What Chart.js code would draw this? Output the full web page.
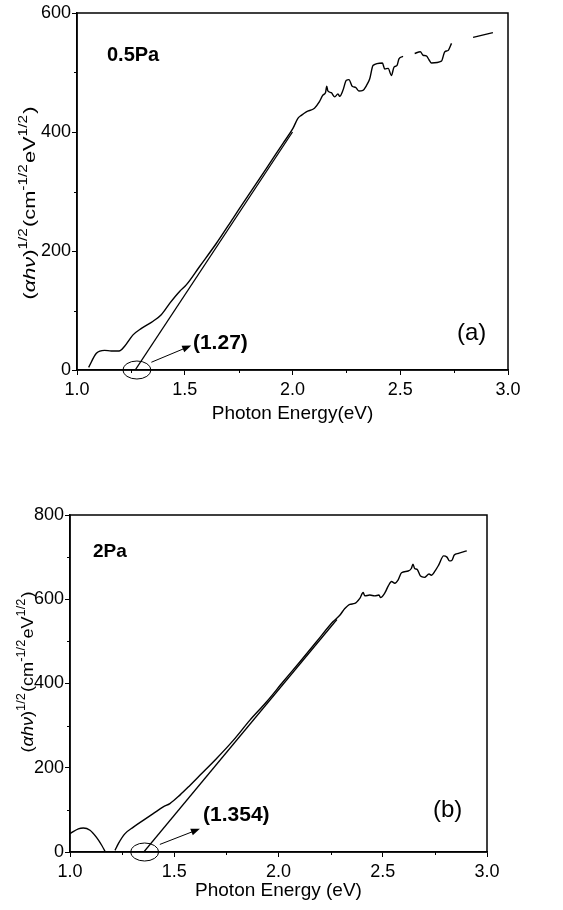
<!DOCTYPE html>
<html>
<head>
<meta charset="utf-8">
<script src="https://cdn.jsdelivr.net/npm/chart.js@4.4.1/dist/chart.umd.min.js"></script>
<style>
  html, body { margin: 0; padding: 0; background: #fff; }
  body { width: 563px; height: 910px; position: relative; overflow: hidden; }
  .panel { position: absolute; left: 0; }
</style>
</head>
<body>
<div class="panel" style="top:0px;"><canvas id="chartA" width="563" height="450"></canvas></div>
<div class="panel" style="top:460px;"><canvas id="chartB" width="563" height="450"></canvas></div>
<script>
// ---------- Panel (a): 0.5Pa ----------
const energyA = [1.054, 1.090, 1.128, 1.159, 1.195, 1.221, 1.260, 1.299, 1.353, 1.391,
                 1.430, 1.476, 1.507, 1.569, 1.647, 1.724, 1.801, 1.879, 1.956, 2.002,
                 2.025, 2.041, 2.064, 2.102, 2.125, 2.141, 2.153, 2.159, 2.164, 2.180,
                 2.196, 2.211, 2.219, 2.234, 2.250, 2.262, 2.277, 2.293, 2.308, 2.327,
                 2.343, 2.358, 2.374, 2.417, 2.428, 2.444, 2.459, 2.471, 2.485, 2.494,
                 2.513, 2.540, 2.567, 2.593, 2.606, 2.621, 2.634, 2.645, 2.691, 2.707,
                 2.722, 2.738, 2.790, 2.838, 2.930];
const valueA  = [4.5, 28, 33, 32, 32, 40, 59, 70, 82, 93,
                 112, 132, 143, 174, 213, 255, 297, 339, 381, 406,
                 423, 428, 434, 440, 451, 462, 466, 477, 469, 466,
                 459, 464, 460, 470, 487, 488, 477, 475, 469, 470,
                 478, 489, 512, 516, 506, 507, 495, 509, 512, 523,
                 527, null, 532, 535, 529, 528, 521, 516, 519, 535,
                 537, 549, null, 559, 567];
const fitEnergyA = [1.27, 2.0];
const fitValueA  = [0, 400];
const xTicksA = [1.0, 1.5, 2.0, 2.5, 3.0];
const yTicksA = [0, 200, 400, 600];
const xMinorA = [1.25, 1.75, 2.25, 2.75];
const yMinorA = [100, 300, 500];
const gapLabelA = "(1.27)";
const sampleLabelA = "0.5Pa";
const panelLabelA = "(a)";
const xTitleA = "Photon Energy(eV)";

// ---------- Panel (b): 2Pa ----------
const energyB = [1.000, 1.040, 1.064, 1.096, 1.128, 1.152, 1.168, 1.190,
                 1.216, 1.232, 1.264, 1.304, 1.351, 1.399, 1.447, 1.479, 1.527, 1.575,
                 1.623, 1.703, 1.783, 1.863, 1.942, 2.022, 2.102, 2.182, 2.262, 2.294,
                 2.318, 2.342, 2.366, 2.390, 2.406, 2.414, 2.438, 2.462, 2.482, 2.489,
                 2.510, 2.526, 2.542, 2.558, 2.574, 2.590, 2.622, 2.637, 2.645, 2.653,
                 2.665, 2.681, 2.700, 2.722, 2.733, 2.752, 2.768, 2.792, 2.808, 2.820,
                 2.831, 2.843, 2.863, 2.903];
const valueB  = [43.6, 55, 57, 51.5, 34, 16, 1.6, null,
                 4, 20, 43.6, 59, 75, 91, 107, 115, 135, 158,
                 182, 222, 265, 313, 356, 404, 451, 499, 547, 562,
                 578, 588, 590, 602, 616, 608, 610, 608, 610, 604,
                 615, 631, 642, 638, 646, 663, 667, 673, 683, 673,
                 671, 655, 652, 660, 657, 668, 681, 703, 700, 691,
                 692, 705, 709, 715];
const fitEnergyB = [1.354, 2.28];
const fitValueB  = [0, 552];
const xTicksB = [1.0, 1.5, 2.0, 2.5, 3.0];
const yTicksB = [0, 200, 400, 600, 800];
const xMinorB = [1.25, 1.75, 2.25, 2.75];
const yMinorB = [100, 300, 500, 700];
const gapLabelB = "(1.354)";
const sampleLabelB = "2Pa";
const panelLabelB = "(b)";
const xTitleB = "Photon Energy (eV)";

const FONT = "'Liberation Sans', Arial, sans-serif";

function pairs(xs, ys) { return xs.map((x, i) => ({ x: x, y: ys[i] })); }

function drawYTitle(ctx, x, yCenter, size, supSize, length) {
  // (αhν)^{1/2}(cm^{-1/2}eV^{1/2}) rotated
  const parts = [
    { t: "(", f: `${size}px ${FONT}`, sup: false },
    { t: "\u03B1h\u03BD", f: `italic ${size}px ${FONT}`, sup: false },
    { t: ")", f: `${size}px ${FONT}`, sup: false },
    { t: "1/2", f: `${supSize}px ${FONT}`, sup: true },
    { t: "(cm", f: `${size}px ${FONT}`, sup: false },
    { t: "-1/2", f: `${supSize}px ${FONT}`, sup: true },
    { t: "eV", f: `${size}px ${FONT}`, sup: false },
    { t: "1/2", f: `${supSize}px ${FONT}`, sup: true },
    { t: ")", f: `${size}px ${FONT}`, sup: false }
  ];
  ctx.save();
  let total = 0;
  parts.forEach(p => { ctx.font = p.f; p.w = ctx.measureText(p.t).width + (p.sup ? 1 : 0); total += p.w; });
  ctx.translate(x, yCenter);
  ctx.rotate(-Math.PI / 2);
  ctx.scale(length / total, 1);
  ctx.fillStyle = "#000";
  ctx.textBaseline = "alphabetic";
  let cx = -total / 2;
  parts.forEach(p => {
    ctx.font = p.f;
    ctx.fillText(p.t, cx, p.sup ? -size * 0.5 : 0);
    cx += p.w;
  });
  ctx.restore();
}

function makePanel(id, o) {
  const extras = {
    id: "extras_" + id,
    afterDraw(chart) {
      const ctx = chart.ctx, a = chart.chartArea;
      const xs = chart.scales.x, ys = chart.scales.y;
      ctx.save();
      // frame
      ctx.strokeStyle = "#000";
      ctx.lineWidth = 1.5;
      ctx.strokeRect(a.left, a.top, a.right - a.left, a.bottom - a.top);
      // minor ticks
      ctx.lineWidth = 1;
      o.xMinor.forEach(v => {
        const px = Math.round(xs.getPixelForValue(v)) + 0.5;
        ctx.beginPath(); ctx.moveTo(px, a.bottom); ctx.lineTo(px, a.bottom + 3); ctx.stroke();
      });
      o.yMinor.forEach(v => {
        const py = Math.round(ys.getPixelForValue(v)) + 0.5;
        ctx.beginPath(); ctx.moveTo(a.left, py); ctx.lineTo(a.left - 3, py); ctx.stroke();
      });
      // ellipse around intercept
      const ex = xs.getPixelForValue(o.ellX), ey = ys.getPixelForValue(0);
      ctx.beginPath();
      ctx.ellipse(ex, ey, o.ellRx, o.ellRy, 0, 0, Math.PI * 2);
      ctx.lineWidth = 1;
      ctx.stroke();
      // arrow
      const ax0 = xs.getPixelForValue(o.arrow[0]), ay0 = ys.getPixelForValue(o.arrow[1]);
      const ax1 = xs.getPixelForValue(o.arrow[2]), ay1 = ys.getPixelForValue(o.arrow[3]);
      const ang = Math.atan2(ay1 - ay0, ax1 - ax0);
      ctx.beginPath(); ctx.moveTo(ax0, ay0); ctx.lineTo(ax1 - 6 * Math.cos(ang), ay1 - 6 * Math.sin(ang)); ctx.stroke();
      ctx.beginPath();
      ctx.moveTo(ax1, ay1);
      ctx.lineTo(ax1 - 9 * Math.cos(ang) + 3.5 * Math.sin(ang), ay1 - 9 * Math.sin(ang) - 3.5 * Math.cos(ang));
      ctx.lineTo(ax1 - 9 * Math.cos(ang) - 3.5 * Math.sin(ang), ay1 - 9 * Math.sin(ang) + 3.5 * Math.cos(ang));
      ctx.closePath();
      ctx.fillStyle = "#000";
      ctx.fill();
      // texts
      ctx.fillStyle = "#000";
      ctx.textBaseline = "middle";
      ctx.textAlign = "left";
      ctx.font = `bold ${o.gapFont}px ${FONT}`;
      ctx.fillText(o.gapLabel, xs.getPixelForValue(o.gapPos[0]), ys.getPixelForValue(o.gapPos[1]));
      ctx.font = `bold ${o.sampleFont}px ${FONT}`;
      ctx.fillText(o.sampleLabel, xs.getPixelForValue(o.samplePos[0]), ys.getPixelForValue(o.samplePos[1]));
      ctx.font = `${o.panelFont}px ${FONT}`;
      ctx.fillText(o.panelLabel, xs.getPixelForValue(o.panelPos[0]), ys.getPixelForValue(o.panelPos[1]));
      ctx.restore();
      drawYTitle(ctx, o.yTitleX, o.yTitleY, o.yTitleSize, o.yTitleSup, o.yTitleLen);
    }
  };

  return new Chart(document.getElementById(id), {
    type: "line",
    data: {
      datasets: [
        { data: pairs(o.ex, o.ev), borderColor: "#000", borderWidth: 1.4, pointRadius: 0,
          spanGaps: false, cubicInterpolationMode: "monotone", fill: false },
        { data: pairs(o.fitX, o.fitY), borderColor: "#000", borderWidth: 1.3, pointRadius: 0, fill: false }
      ]
    },
    options: {
      responsive: false,
      animation: false,
      events: [],
      layout: { padding: { top: o.padTop, right: o.padRight, left: 0, bottom: 0 } },
      plugins: { legend: { display: false }, tooltip: { enabled: false }, title: { display: false } },
      scales: {
        x: {
          type: "linear", min: o.xTicks[0], max: o.xTicks[o.xTicks.length - 1],
          afterBuildTicks: s => { s.ticks = o.xTicks.map(v => ({ value: v })); },
          afterFit: s => { s.height = o.xAxisH; },
          ticks: { color: "#000", font: { family: FONT, size: o.tickFont }, padding: 4,
                   maxRotation: 0, callback: v => Number(v).toFixed(1) },
          grid: { drawOnChartArea: false, drawTicks: true, tickLength: 5, color: "#000", lineWidth: 1 },
          border: { display: true, color: "#000", width: 1.5 },
          title: { display: true, text: o.xTitle, color: "#000", font: { family: FONT, size: o.titleFont },
                   padding: { top: 0, bottom: o.xTitlePadB } }
        },
        y: {
          type: "linear", min: o.yTicks[0], max: o.yTicks[o.yTicks.length - 1],
          afterBuildTicks: s => { s.ticks = o.yTicks.map(v => ({ value: v })); },
          afterFit: s => { s.width = o.yAxisW; },
          ticks: { color: "#000", font: { family: FONT, size: o.tickFont }, padding: 1,
                   callback: v => String(Math.round(v)) },
          grid: { drawOnChartArea: false, drawTicks: true, tickLength: 5, color: "#000", lineWidth: 1 },
          border: { display: true, color: "#000", width: 1.5 },
          title: { display: false }
        }
      }
    },
    plugins: [extras]
  });
}

makePanel("chartA", {
  ex: energyA, ev: valueA, fitX: fitEnergyA, fitY: fitValueA,
  xTicks: xTicksA, yTicks: yTicksA, xMinor: xMinorA, yMinor: yMinorA,
  xTitle: xTitleA, gapLabel: gapLabelA, sampleLabel: sampleLabelA, panelLabel: panelLabelA,
  padTop: 13, padRight: 55, xAxisH: 80, yAxisW: 77, xTitlePadB: 25,
  tickFont: 18, titleFont: 19, gapFont: 21, sampleFont: 20, panelFont: 24,
  gapPos: [1.538, 45], samplePos: [1.139, 529], panelPos: [2.763, 62],
  arrow: [1.345, 13, 1.53, 41], ellX: 1.278, ellRx: 14, ellRy: 9,
  yTitleX: 35, yTitleY: 203, yTitleSize: 17, yTitleSup: 12, yTitleLen: 193
});

makePanel("chartB", {
  ex: energyB, ev: valueB, fitX: fitEnergyB, fitY: fitValueB,
  xTicks: xTicksB, yTicks: yTicksB, xMinor: xMinorB, yMinor: yMinorB,
  xTitle: xTitleB, gapLabel: gapLabelB, sampleLabel: sampleLabelB, panelLabel: panelLabelB,
  padTop: 55, padRight: 76, xAxisH: 58, yAxisW: 70, xTitlePadB: 8,
  tickFont: 18, titleFont: 19, gapFont: 21, sampleFont: 19, panelFont: 24,
  gapPos: [1.638, 88], samplePos: [1.11, 712], panelPos: [2.741, 100],
  arrow: [1.431, 18, 1.623, 55], ellX: 1.358, ellRx: 14, ellRy: 9,
  yTitleX: 33, yTitleY: 212, yTitleSize: 17, yTitleSup: 12, yTitleLen: 161
});
</script>
</body>
</html>
